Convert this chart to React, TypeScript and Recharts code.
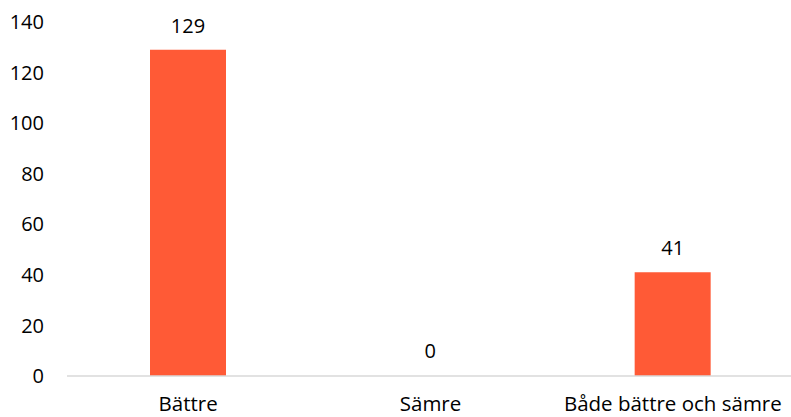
import React from "react";
import { BarChart, Bar, XAxis, YAxis, LabelList, Cell } from "recharts";

const categories = ["Bättre", "Sämre", "Både bättre och sämre"];
const values = [129, 0, 41];
const yTicks = [0, 20, 40, 60, 80, 100, 120, 140];

const data = categories.map((name, i) => ({ name, value: values[i] }));

const FONT = "'Open Sans', 'Noto Sans', sans-serif";

export default function App() {
  return (
    <div style={{ position: "absolute", left: 0, top: 0, background: "#fff" }}>
      <BarChart
        width={794}
        height={417}
        data={data}
        margin={{ top: 22, right: 0, bottom: 0, left: 0 }}
      >
        <XAxis
          dataKey="name"
          height={41}
          axisLine={{ stroke: "#d9d9d9", strokeWidth: 1.5 }}
          tickLine={false}
          tickSize={0}
          tickMargin={20}
          tick={{ fill: "#000", fontSize: 20.5, fontFamily: FONT }}
          interval={0}
        />
        <YAxis
          width={67}
          domain={[0, 140]}
          ticks={yTicks}
          axisLine={false}
          tickLine={false}
          tickSize={0}
          tickMargin={23}
          tick={{ fill: "#000", fontSize: 20, fontFamily: FONT }}
        />
        <Bar dataKey="value" fill="#FF5A36" barSize={76} minPointSize={1} isAnimationActive={false}>
          {data.map((d, i) => (
            <Cell key={i} fill={d.value === 0 ? "transparent" : "#FF5A36"} />
          ))}
          <LabelList
            dataKey="value"
            position="top"
            offset={17}
            style={{ fill: "#000", fontSize: 20, fontFamily: FONT }}
          />
        </Bar>
      </BarChart>
    </div>
  );
}
